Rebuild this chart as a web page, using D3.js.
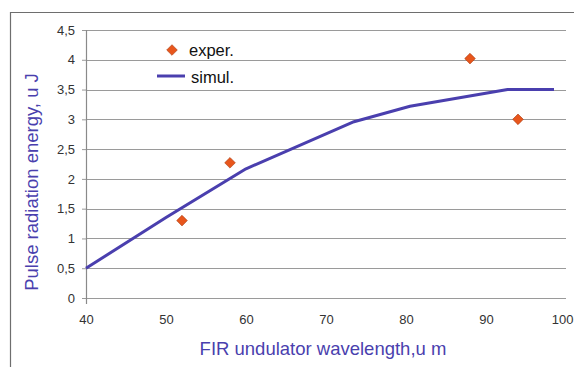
<!DOCTYPE html>
<html>
<head>
<meta charset="utf-8">
<script src="https://cdn.jsdelivr.net/npm/d3@7"></script>
<style>
  body { margin: 0; background: #fff; }
  svg { display: block; font-family: "Liberation Sans", Arial, sans-serif; }
</style>
</head>
<body>
<svg id="canvas" width="574" height="367"></svg>
<script>
// experimental points (wavelength um, energy uJ)
let experX = [52, 58, 88, 94];
let experY = [1.3, 2.27, 4.02, 3.0];

// simulation curve
let simulX = [40, 50, 60, 73.5, 80.5, 92.7, 98.5];
let simulY = [0.5, 1.35, 2.17, 2.96, 3.22, 3.5, 3.5];

let xTicks = [40, 50, 60, 70, 80, 90, 100];
let yTicks = [0, 0.5, 1, 1.5, 2, 2.5, 3, 3.5, 4, 4.5];

let canvas = d3.select("#canvas");

const purple = "#4a3fae";
const orange = "#e8561c";

let xScale = d3.scaleLinear().domain([40, 100]).range([86, 566]);
let yScale = d3.scaleLinear().domain([0, 4.5]).range([298, 30]);

const fmt = (d) => String(d).replace('.', ',');

// frame (only top and left edges visible in the picture)
canvas.append('path')
  .attr('d', 'M10.5,367 L10.5,12.5 L574,12.5')
  .attr('fill', 'none')
  .attr('stroke', '#6e6e6e')
  .attr('stroke-width', 1.2);

// horizontal grid lines
canvas.append('g')
  .selectAll('line')
  .data(yTicks)
  .enter()
  .append('line')
  .attr('x1', xScale(40))
  .attr('x2', xScale(100))
  .attr('y1', (d) => Math.round(yScale(d)) + 0.5)
  .attr('y2', (d) => Math.round(yScale(d)) + 0.5)
  .attr('stroke', '#9a9a9a')
  .attr('stroke-width', 1.2);

// y axis
let yAxis = d3.axisLeft(yScale)
  .tickValues(yTicks)
  .tickSize(4)
  .tickPadding(7)
  .tickFormat(fmt);

let yG = canvas.append('g')
  .attr('transform', `translate(${xScale(40)},0)`)
  .call(yAxis);
yG.select('.domain').remove();
yG.selectAll('.tick line').attr('stroke', '#9a9a9a');
yG.selectAll('text')
  .attr('fill', '#333')
  .style('font-size', '13px')
  .style('font-family', '"Liberation Sans", Arial, sans-serif');

// vertical axis line
canvas.append('line')
  .attr('x1', xScale(40) + 0.5)
  .attr('x2', xScale(40) + 0.5)
  .attr('y1', yScale(4.5))
  .attr('y2', yScale(0) + 6)
  .attr('stroke', '#8a8a8a')
  .attr('stroke-width', 1.2);

// x axis labels
let xAxis = d3.axisBottom(xScale)
  .tickValues(xTicks)
  .tickSize(0)
  .tickPadding(17)
  .tickFormat((d) => d);

let xG = canvas.append('g')
  .attr('transform', `translate(0,${yScale(0)})`)
  .call(xAxis);
xG.select('.domain').remove();
xG.selectAll('text')
  .attr('fill', '#333')
  .style('font-size', '13px')
  .style('font-family', '"Liberation Sans", Arial, sans-serif');
// keep the last label inside the window
xG.selectAll('text')
  .filter((d) => d === 100)
  .attr('text-anchor', 'end')
  .attr('dx', 7);

// simulation line
let simulData = simulX.map((x, i) => [x, simulY[i]]);
let line = d3.line()
  .x((d) => xScale(d[0]))
  .y((d) => yScale(d[1]));

canvas.append('path')
  .datum(simulData)
  .attr('d', line)
  .attr('fill', 'none')
  .attr('stroke', purple)
  .attr('stroke-width', 3)
  .attr('stroke-linejoin', 'round');

// experimental points
let experData = experX.map((x, i) => [x, experY[i]]);
let diamond = d3.symbol().type(d3.symbolDiamond2).size(72);

canvas.append('g')
  .selectAll('path')
  .data(experData)
  .enter()
  .append('path')
  .attr('d', diamond)
  .attr('transform', (d) => `translate(${xScale(d[0])},${yScale(d[1])})`)
  .attr('fill', orange)
  .attr('stroke', '#a63a10')
  .attr('stroke-width', 0.6);

// legend
let legend = canvas.append('g');
legend.append('path')
  .attr('d', diamond)
  .attr('transform', 'translate(172,50)')
  .attr('fill', orange)
  .attr('stroke', '#a63a10')
  .attr('stroke-width', 0.6);
legend.append('text')
  .attr('x', 189)
  .attr('y', 56)
  .text('exper.')
  .style('font-size', '16.5px')
  .attr('fill', '#111');
legend.append('line')
  .attr('x1', 157)
  .attr('x2', 185)
  .attr('y1', 76)
  .attr('y2', 76)
  .attr('stroke', purple)
  .attr('stroke-width', 3);
legend.append('text')
  .attr('x', 191)
  .attr('y', 83)
  .text('simul.')
  .style('font-size', '16.5px')
  .attr('fill', '#111');

// axis titles
canvas.append('text')
  .attr('transform', 'translate(38,182) rotate(-90)')
  .attr('text-anchor', 'middle')
  .attr('fill', purple)
  .style('font-size', '18.5px')
  .text('Pulse radiation energy, u J');

canvas.append('text')
  .attr('x', 323)
  .attr('y', 355)
  .attr('text-anchor', 'middle')
  .attr('fill', purple)
  .style('font-size', '18.5px')
  .text('FIR undulator wavelength,u m');
</script>
</body>
</html>
